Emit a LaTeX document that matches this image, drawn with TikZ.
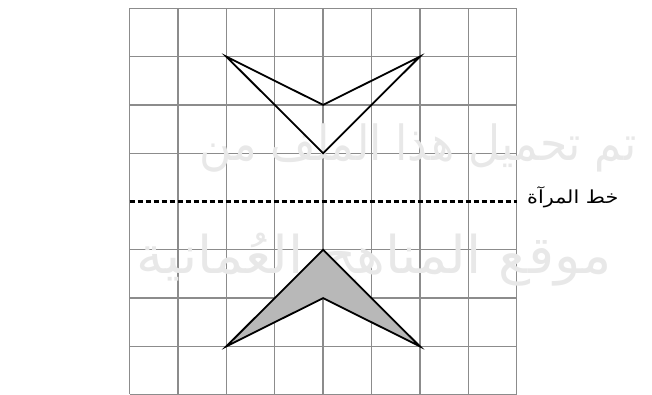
\documentclass[tikz,border=0pt]{standalone}
\usepackage{fontspec}
\newfontfamily\arabicfont[Script=Arabic]{DejaVu Sans}
\TeXXeTstate=1
\begin{document}
\begin{tikzpicture}[x=1pt,y=-1pt,
  gridline/.style={draw=black!45,line width=1.3pt},
  shapeline/.style={draw=black,line width=1.8pt,line join=miter},
  mirror/.style={draw=black,line width=2.6pt,dash pattern=on 5pt off 3pt},
  watermark/.style={text=black!9,inner sep=0pt}]
\useasboundingbox (0,0) rectangle (652,394);
% grid
\foreach \i in {0,...,8} {
  \draw[gridline] ({129.5+48.4*\i},8.3) -- ({129.5+48.4*\i},394);
}
\foreach \j in {0,1,2,3,5,6,7,8} {
  \draw[gridline] (129.5,{8.3+48.3*\j}) -- (516.7,{8.3+48.3*\j});
}
% watermark
\node[watermark,anchor=center,yscale=1.1,font=\arabicfont\fontsize{44}{48}\selectfont] (wm1) at (418,148) {\beginR تم تحميل هذا الملف من\endR};
\node[watermark,anchor=center,xscale=1.05,font=\arabicfont\fontsize{52}{56}\selectfont] (wm2) at (374,260) {\beginR موقع المناهج العُمانية\endR};
% mirror line
\coordinate (ml) at (129.5,201.5);
\coordinate (mr) at (516.7,201.5);
\draw[mirror] (ml) -- (mr);
\node[anchor=west,inner sep=0pt,xscale=1.15,font=\arabicfont\fontsize{18}{20}\selectfont] (lbl) at (527,197) {\beginR خط المرآة\endR};
% top shape
\coordinate (a1) at ({129.5+48.4*2},{8.3+48.3*1});
\coordinate (a2) at ({129.5+48.4*4},{8.3+48.3*2});
\coordinate (a3) at ({129.5+48.4*6},{8.3+48.3*1});
\coordinate (a4) at ({129.5+48.4*4},{8.3+48.3*3});
\draw[shapeline] (a1) -- (a2) -- (a3) -- (a4) -- cycle;
% bottom shape
\coordinate (b1) at ({129.5+48.4*2},{8.3+48.3*7});
\coordinate (b2) at ({129.5+48.4*4},{8.3+48.3*6});
\coordinate (b3) at ({129.5+48.4*6},{8.3+48.3*7});
\coordinate (b4) at ({129.5+48.4*4},{8.3+48.3*5});
\draw[shapeline,fill=black!28] (b1) -- (b2) -- (b3) -- (b4) -- cycle;
\end{tikzpicture}
\end{document}
